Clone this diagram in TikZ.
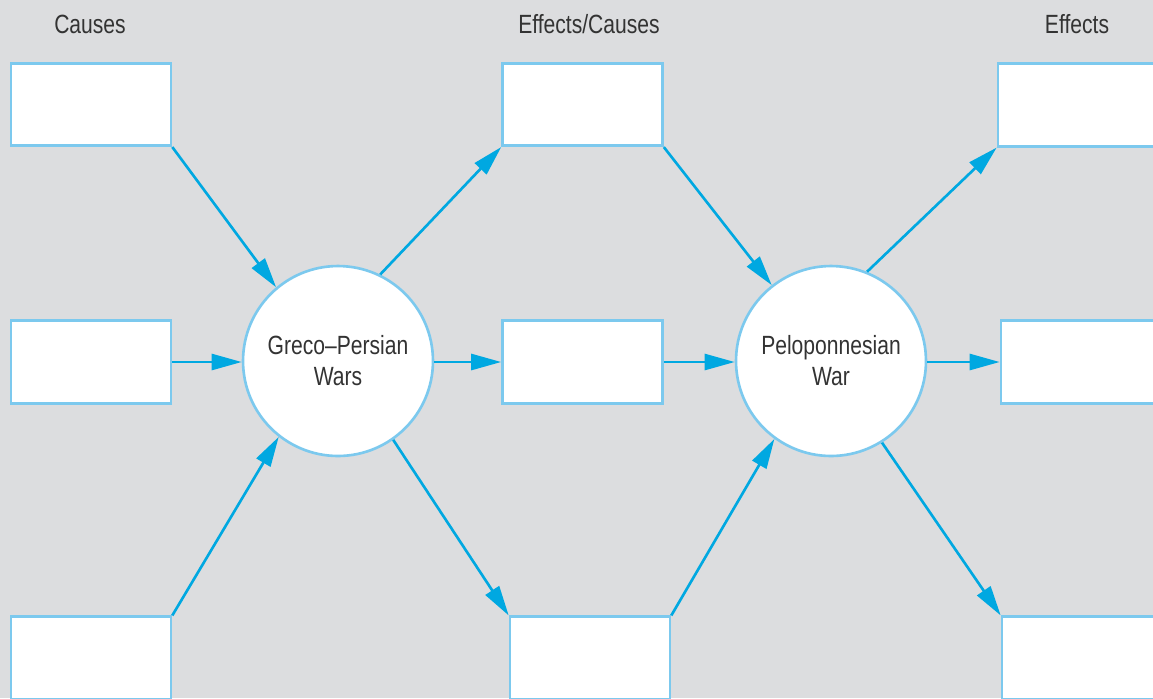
\documentclass[tikz,border=0pt]{standalone}
\usepackage{fontspec}
\setmainfont{Liberation Sans}[FakeStretch=0.8]
\usetikzlibrary{arrows.meta}

\definecolor{panel}{HTML}{DCDDDF}
\definecolor{rim}{HTML}{7CC9EE}
\definecolor{flow}{HTML}{00A8E1}
\definecolor{ink}{HTML}{333333}

\begin{document}
\begin{tikzpicture}[x=0.02cm, y=-0.02cm,
        box/.style={draw=rim, fill=white, line width=1.5pt, minimum width=3.2cm, minimum height=1.65cm, inner sep=0pt},
        war/.style={draw=rim, fill=white, line width=1.5pt, circle, minimum size=3.8cm, inner sep=0pt,
            align=center, text=ink, font=\fontsize{15}{17.6}\selectfont},
        head/.style={text=ink, anchor=base, font=\fontsize{15}{17.6}\selectfont},
        link/.style={draw=flow, line width=1.5pt, -{Triangle[length=0.6cm, width=0.32cm]}}]

        % gray panel, boxes run off the edges
        \fill[panel] (0,0) rectangle (1153,698);
        \clip (0,0) rectangle (1153,698);

        \node[head] (hcause) at (90,33) {Causes};
        \node[head] (hmid) at (589,33) {Effects/Causes};
        \node[head] (heffect) at (1077,33) {Effects};

        \node[box] (cause1) at (91,104.5) {};
        \node[box] (cause2) at (91,362) {};
        \node[box] (cause3) at (91,658) {};

        \node[box] (mid1) at (582.5,104.5) {};
        \node[box] (mid2) at (582.5,362) {};
        \node[box] (mid3) at (590,658) {};

        \node[box] (effect1) at (1078,105) {};
        \node[box] (effect2) at (1081,362) {};
        \node[box] (effect3) at (1082,658) {};

        \node[war] (greco) at (338,361) {Greco--Persian\\Wars};
        \node[war] (pelo) at (831,361) {Peloponnesian\\War};

        % into the first war
        \draw[link] (cause1.south east) -- (greco.130);
        \draw[link] (cause2) -- (greco.west |- cause2);
        \draw[link] (cause3.north east) -- (greco.232);

        % out of it, into the second
        \draw[link] (greco.64) -- (mid1.south west);
        \draw[link] (greco.east |- mid2) -- (mid2);
        \draw[link] (greco.305) -- (mid3.north west);

        \draw[link] (mid1.south east) -- (pelo.128);
        \draw[link] (mid2) -- (pelo.west |- mid2);
        \draw[link] (mid3.north east) -- (pelo.234);

        % and its effects
        \draw[link] (pelo.68) -- (effect1.south west);
        \draw[link] (pelo.east |- effect2) -- (effect2);
        \draw[link] (pelo.302) -- (effect3.north west);
    \end{tikzpicture}
\end{document}
